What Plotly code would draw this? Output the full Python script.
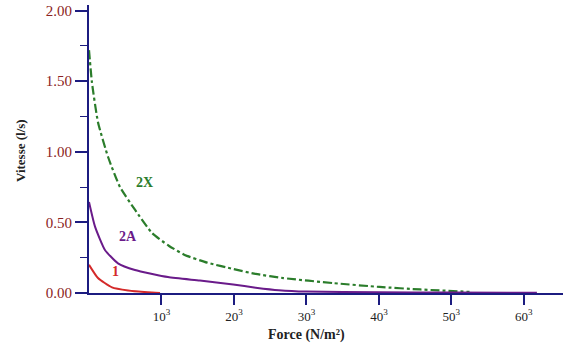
import plotly.graph_objects as go

# Data (x in units of the tick steps: tick "10³" at 10, "20³" at 20 ...)
x_2x = [0, 0.41, 1.24, 2.62, 4.28, 6.34, 8.69, 11.0, 13.2, 16.3, 19.9, 23.0, 26.8, 33.7, 40.1, 45.7, 52.5]
y_2x = [1.72, 1.49, 1.21, 0.965, 0.75, 0.59, 0.425, 0.335, 0.27, 0.215, 0.17, 0.135, 0.106, 0.07, 0.043, 0.025, 0.008]

x_2a = [0, 0.83, 2.2, 4.0, 6.34, 10.9, 15.3, 19.9, 23.0, 26.2, 30, 40, 50, 61.8]
y_2a = [0.645, 0.47, 0.305, 0.21, 0.163, 0.113, 0.088, 0.06, 0.038, 0.02, 0.01, 0.005, 0.003, 0.002]

x_1 = [0, 1.24, 3.17, 5.4, 8.1, 9.8]
y_1 = [0.2, 0.106, 0.04, 0.018, 0.005, 0.0]

x_tick_vals = [10, 20, 30, 40, 50, 60]
x_tick_text = ["10<sup>3</sup>", "20<sup>3</sup>", "30<sup>3</sup>", "40<sup>3</sup>", "50<sup>3</sup>", "60<sup>3</sup>"]
y_tick_vals = [0, 0.5, 1.0, 1.5, 2.0]
y_tick_text = ["0.00", "0.50", "1.00", "1.50", "2.00"]

GREEN = "#2b7d2b"
PURPLE = "#6a1b8a"
RED = "#d42a2a"
NAVY = "#1c1c80"
TICKRED = "#8b2323"
FONT = "Liberation Serif"

fig = go.Figure()
fig.add_trace(go.Scatter(x=x_2x, y=y_2x, mode="lines", line=dict(color=GREEN, width=2.2, dash="dashdot", shape="spline", smoothing=0.5), hoverinfo="skip"))
fig.add_trace(go.Scatter(x=x_2a, y=y_2a, mode="lines", line=dict(color=PURPLE, width=2, shape="spline", smoothing=0.5), hoverinfo="skip"))
fig.add_trace(go.Scatter(x=x_1, y=y_1, mode="lines", line=dict(color=RED, width=2, shape="spline", smoothing=0.5), hoverinfo="skip"))

fig.add_annotation(x=7.7, y=0.78, text="<b>2X</b>", showarrow=False, font=dict(family=FONT, size=14, color=GREEN))
fig.add_annotation(x=5.4, y=0.40, text="<b>2A</b>", showarrow=False, font=dict(family=FONT, size=14, color=PURPLE))
fig.add_annotation(x=3.7, y=0.15, text="<b>1</b>", showarrow=False, font=dict(family=FONT, size=14, color=RED))

fig.add_annotation(xref="paper", yref="paper", x=(306 - 89) / 474, y=(293 - 335) / 288, text="<b>Force (N/m²)</b>",
                   showarrow=False, font=dict(family=FONT, size=14, color="#222"), yanchor="middle", xanchor="center")
fig.add_annotation(xref="paper", yref="paper", x=(20 - 89) / 474, y=(293 - 151) / 288, text="<b>Vitesse (l/s)</b>",
                   showarrow=False, textangle=-90, font=dict(family=FONT, size=13, color="#222"),
                   xanchor="center", yanchor="middle")

fig.update_layout(
    width=563, height=349,
    margin=dict(l=89, r=0, t=5, b=56),
    paper_bgcolor="white", plot_bgcolor="white",
    showlegend=False,
    xaxis=dict(range=[0, 65.4], showgrid=False, zeroline=False, showline=True, linecolor=NAVY, linewidth=2,
               ticks="outside", ticklen=10, tickwidth=2, tickcolor=NAVY, automargin=False,
               tickvals=x_tick_vals, ticktext=x_tick_text,
               tickfont=dict(family=FONT, size=13, color="#222")),
    yaxis=dict(range=[0, 2.04], showgrid=False, zeroline=False, showline=True, linecolor=NAVY, linewidth=2,
               ticks="outside", ticklen=12, tickwidth=2, tickcolor=NAVY, automargin=False,
               tickvals=y_tick_vals, ticktext=y_tick_text,
               tickfont=dict(family=FONT, size=15, color=TICKRED),
               minor=dict(tickvals=[0.25, 0.75, 1.25, 1.75], ticks="outside", ticklen=7, tickwidth=1, tickcolor=NAVY)),
)
fig.update_yaxes(tickprefix="<b>", ticksuffix="</b>")
fig.update_xaxes(tickprefix="<b>", ticksuffix="</b>")

fig.write_html("out.html", config={"displayModeBar": False},
               post_script="document.body.style.margin='0';document.body.style.padding='0';")
